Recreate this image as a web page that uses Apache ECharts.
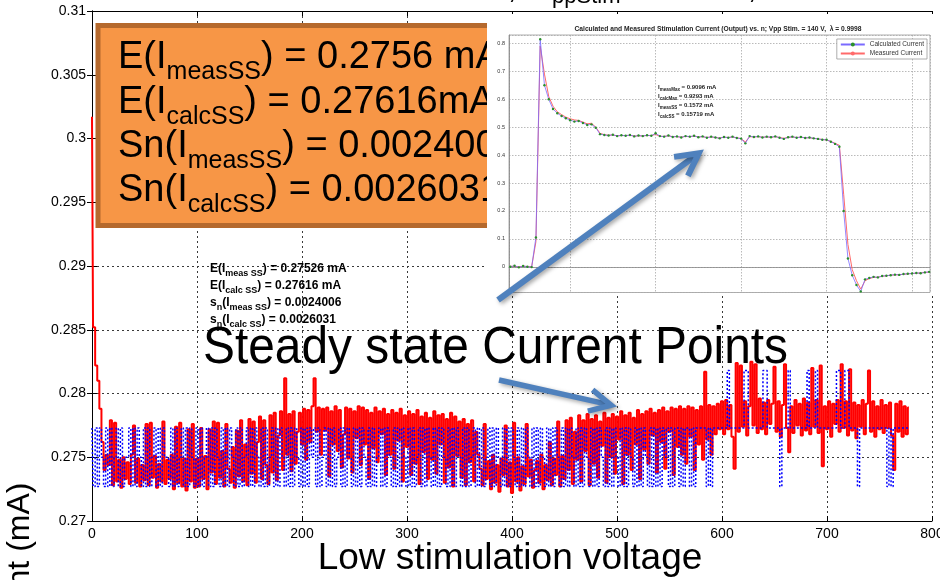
<!DOCTYPE html>
<html>
<head>
<meta charset="utf-8">
<script src="https://cdn.jsdelivr.net/npm/echarts@6/dist/echarts.min.js"></script>
<style>
  html, body { margin: 0; padding: 0; background: #fff; }
  #wrap { position: relative; width: 940px; height: 580px; overflow: hidden; }
  #main { position: absolute; left: 0; top: 0; width: 940px; height: 580px; }
  #inset { position: absolute; left: 487px; top: 14px; width: 453px; height: 280px; background: #fff; filter: blur(0.6px); }
  #overlay { position: absolute; left: 0; top: 0; width: 940px; height: 580px; pointer-events: none; }
</style>
</head>
<body>
<div id="wrap">
  <div id="main"></div>
  <div id="inset"></div>
  <div id="overlay"></div>
</div>
<script>
// ---------- main plot: steady-state current vs. low stimulation voltage ----------
const voltageStart = 0;
const voltageStep = 2;

// measured steady-state current (mA), red solid trace
const measuredSS = [
  0.3017,0.2852,0.2822,0.2810,0.2788,0.2762,0.2740,0.2752,0.2744,0.2779,
  0.2728,0.2777,0.2731,0.2748,0.2726,0.2750,0.2733,0.2746,0.2729,0.2752,
  0.2775,0.2730,0.2749,0.2727,0.2744,0.2732,0.2776,0.2728,0.2777,0.2734,
  0.2751,0.2726,0.2745,0.2731,0.2778,0.2729,0.2748,0.2733,0.2752,0.2725,
  0.2774,0.2730,0.2777,0.2727,0.2749,0.2724,0.2772,0.2731,0.2776,0.2726,
  0.2749,0.2727,0.2773,0.2733,0.2751,0.2725,0.2772,0.2738,0.2778,0.2729,
  0.2777,0.2734,0.2755,0.2727,0.2776,0.2741,0.2730,0.2758,0.2726,0.2771,
  0.2735,0.2779,0.2731,0.2760,0.2728,0.2780,0.2737,0.2778,0.2730,0.2762,
  0.2782,0.2733,0.2779,0.2744,0.2729,0.2783,0.2738,0.2785,0.2732,0.2767,
  0.2786,0.2740,0.2812,0.2752,0.2784,0.2739,0.2786,0.2745,0.2770,0.2785,
  0.2760,0.2788,0.2748,0.2787,0.2762,0.2790,0.2812,0.2770,0.2789,0.2752,
  0.2788,0.2771,0.2789,0.2735,0.2786,0.2760,0.2790,0.2755,0.2787,0.2742,
  0.2768,0.2789,0.2749,0.2788,0.2738,0.2786,0.2765,0.2790,0.2744,0.2789,
  0.2760,0.2787,0.2733,0.2785,0.2757,0.2789,0.2746,0.2786,0.2768,0.2788,
  0.2736,0.2784,0.2752,0.2787,0.2741,0.2785,0.2763,0.2788,0.2731,0.2783,
  0.2758,0.2786,0.2736,0.2784,0.2745,0.2787,0.2729,0.2782,0.2754,0.2785,
  0.2733,0.2781,0.2748,0.2786,0.2737,0.2783,0.2760,0.2784,0.2730,0.2780,
  0.2742,0.2785,0.2727,0.2782,0.2751,0.2778,0.2734,0.2780,0.2728,0.2776,
  0.2746,0.2779,0.2731,0.2770,0.2752,0.2741,0.2728,0.2776,0.2733,0.2747,
  0.2725,0.2752,0.2730,0.2744,0.2723,0.2749,0.2736,0.2775,0.2727,0.2746,
  0.2722,0.2777,0.2731,0.2750,0.2724,0.2743,0.2729,0.2776,0.2735,0.2748,
  0.2726,0.2740,0.2747,0.2730,0.2752,0.2725,0.2744,0.2732,0.2762,0.2728,
  0.2749,0.2736,0.2778,0.2727,0.2751,0.2733,0.2779,0.2740,0.2781,0.2729,
  0.2770,0.2748,0.2783,0.2731,0.2779,0.2755,0.2784,0.2728,0.2780,0.2745,
  0.2783,0.2734,0.2778,0.2759,0.2785,0.2730,0.2781,0.2750,0.2784,0.2737,
  0.2782,0.2764,0.2786,0.2729,0.2783,0.2752,0.2785,0.2740,0.2781,0.2760,
  0.2787,0.2733,0.2784,0.2756,0.2786,0.2745,0.2788,0.2767,0.2785,0.2738,
  0.2787,0.2762,0.2789,0.2741,0.2786,0.2770,0.2789,0.2736,0.2788,0.2758,
  0.2790,0.2752,0.2788,0.2745,0.2790,0.2766,0.2789,0.2740,0.2787,0.2760,
  0.2790,0.2748,0.2817,0.2764,0.2791,0.2752,0.2790,0.2768,0.2792,0.2772,
  0.2794,0.2768,0.2795,0.2772,0.2791,0.2766,0.2741,0.2824,0.2770,0.2822,
  0.2774,0.2794,0.2767,0.2790,0.2825,0.2775,0.2823,0.2769,0.2796,0.2772,
  0.2793,0.2768,0.2795,0.2776,0.2792,0.2821,0.2770,0.2794,0.2766,0.2791,
  0.2823,0.2773,0.2754,0.2790,0.2769,0.2795,0.2775,0.2792,0.2767,0.2796,
  0.2771,0.2793,0.2768,0.2820,0.2774,0.2795,0.2769,0.2822,0.2743,0.2790,
  0.2772,0.2794,0.2766,0.2792,0.2776,0.2795,0.2770,0.2823,0.2773,0.2794,
  0.2767,0.2819,0.2771,0.2793,0.2765,0.2791,0.2774,0.2795,0.2768,0.2792,
  0.2818,0.2770,0.2794,0.2766,0.2790,0.2772,0.2795,0.2769,0.2791,0.2773,
  0.2793,0.2767,0.2740,0.2792,0.2770,0.2794,0.2766,0.2790,0.2768,0.2789
];

// calculated steady-state current (mA), blue dotted trace (quantised levels)
const calculatedSS = [
  0.2773,0.2727,0.2773,0.2727,0.2773,0.2750,0.2727,0.2773,0.2727,0.2773,
  0.2727,0.2750,0.2773,0.2727,0.2773,0.2727,0.2750,0.2750,0.2773,0.2727,
  0.2773,0.2727,0.2773,0.2750,0.2727,0.2773,0.2727,0.2773,0.2727,0.2750,
  0.2773,0.2727,0.2773,0.2727,0.2773,0.2750,0.2750,0.2727,0.2773,0.2727,
  0.2773,0.2727,0.2750,0.2773,0.2727,0.2773,0.2727,0.2773,0.2750,0.2727,
  0.2773,0.2727,0.2773,0.2727,0.2750,0.2773,0.2727,0.2773,0.2727,0.2773,
  0.2750,0.2727,0.2773,0.2727,0.2773,0.2727,0.2773,0.2750,0.2727,0.2773,
  0.2727,0.2773,0.2727,0.2750,0.2773,0.2727,0.2773,0.2727,0.2773,0.2750,
  0.2727,0.2773,0.2727,0.2773,0.2727,0.2750,0.2773,0.2727,0.2773,0.2727,
  0.2773,0.2750,0.2727,0.2773,0.2727,0.2773,0.2727,0.2773,0.2750,0.2727,
  0.2773,0.2727,0.2773,0.2727,0.2773,0.2750,0.2773,0.2727,0.2773,0.2727,
  0.2750,0.2773,0.2727,0.2773,0.2727,0.2773,0.2727,0.2750,0.2773,0.2727,
  0.2773,0.2727,0.2773,0.2750,0.2727,0.2773,0.2727,0.2773,0.2727,0.2773,
  0.2750,0.2727,0.2773,0.2727,0.2773,0.2727,0.2750,0.2773,0.2727,0.2773,
  0.2727,0.2773,0.2750,0.2727,0.2773,0.2727,0.2773,0.2727,0.2773,0.2750,
  0.2727,0.2773,0.2727,0.2773,0.2727,0.2750,0.2773,0.2727,0.2773,0.2727,
  0.2773,0.2750,0.2727,0.2773,0.2727,0.2773,0.2727,0.2773,0.2750,0.2727,
  0.2773,0.2727,0.2773,0.2727,0.2773,0.2750,0.2727,0.2773,0.2727,0.2773,
  0.2727,0.2750,0.2773,0.2727,0.2773,0.2727,0.2773,0.2727,0.2750,0.2773,
  0.2727,0.2773,0.2727,0.2773,0.2750,0.2727,0.2773,0.2727,0.2773,0.2727,
  0.2773,0.2750,0.2727,0.2773,0.2727,0.2773,0.2727,0.2773,0.2750,0.2727,
  0.2773,0.2727,0.2773,0.2727,0.2773,0.2750,0.2727,0.2773,0.2727,0.2773,
  0.2727,0.2773,0.2750,0.2727,0.2773,0.2727,0.2773,0.2727,0.2773,0.2750,
  0.2727,0.2773,0.2727,0.2773,0.2727,0.2773,0.2750,0.2727,0.2773,0.2727,
  0.2773,0.2727,0.2773,0.2750,0.2727,0.2773,0.2727,0.2773,0.2727,0.2773,
  0.2750,0.2727,0.2773,0.2727,0.2773,0.2727,0.2773,0.2750,0.2727,0.2773,
  0.2727,0.2773,0.2727,0.2773,0.2750,0.2727,0.2773,0.2727,0.2773,0.2727,
  0.2773,0.2727,0.2773,0.2750,0.2773,0.2727,0.2773,0.2727,0.2773,0.2773,
  0.2727,0.2773,0.2727,0.2773,0.2773,0.2727,0.2773,0.2727,0.2773,0.2773,
  0.2773,0.2773,0.2773,0.2727,0.2773,0.2727,0.2773,0.2773,0.2773,0.2773,
  0.2773,0.2773,0.2773,0.2818,0.2773,0.2773,0.2773,0.2773,0.2773,0.2773,
  0.2773,0.2818,0.2818,0.2773,0.2773,0.2773,0.2773,0.2773,0.2773,0.2773,
  0.2818,0.2818,0.2773,0.2773,0.2773,0.2773,0.2773,0.2773,0.2727,0.2773,
  0.2773,0.2773,0.2818,0.2773,0.2773,0.2773,0.2773,0.2773,0.2773,0.2773,
  0.2773,0.2818,0.2773,0.2773,0.2773,0.2818,0.2773,0.2773,0.2773,0.2773,
  0.2773,0.2773,0.2773,0.2773,0.2773,0.2818,0.2818,0.2773,0.2773,0.2818,
  0.2818,0.2773,0.2773,0.2773,0.2773,0.2727,0.2773,0.2773,0.2773,0.2773,
  0.2773,0.2773,0.2773,0.2773,0.2773,0.2773,0.2773,0.2773,0.2773,0.2727,
  0.2773,0.2727,0.2773,0.2773,0.2773,0.2773,0.2773,0.2773,0.2773,0.2773
];

const xTicks = { min: 0, max: 800, interval: 100 };
const yTicks = { min: 0.27, max: 0.31, interval: 0.005 };

// ---------- inset: stimulation current vs. n ----------
const nStart = 6;
const nStep = 1;
const insetCalculated = [
  0.000,0.004,-0.002,0.003,0.000,-0.001,0.105,0.815,0.650,0.600,
  0.565,0.550,0.540,0.532,0.525,0.520,0.522,0.515,0.508,0.510,
  0.498,0.475,0.472,0.470,0.473,0.468,0.471,0.469,0.472,0.467,
  0.470,0.468,0.471,0.469,0.478,0.468,0.466,0.470,0.465,0.467,
  0.463,0.468,0.466,0.469,0.464,0.467,0.462,0.466,0.463,0.460,
  0.465,0.462,0.466,0.461,0.459,0.442,0.468,0.465,0.467,0.463,
  0.466,0.464,0.467,0.462,0.458,0.464,0.466,0.462,0.465,0.461,
  0.463,0.460,0.458,0.455,0.455,0.448,0.440,0.430,0.200,0.030,
  -0.030,-0.065,-0.088,-0.045,-0.040,-0.036,-0.038,-0.033,-0.032,-0.030,
  -0.028,-0.029,-0.026,-0.025,-0.024,-0.022,-0.023,-0.020,-0.018
];
const insetMeasured = [
  0.002,0.001,0.000,0.002,0.001,0.000,0.090,0.790,0.690,0.610,
  0.575,0.555,0.545,0.536,0.530,0.526,0.524,0.518,0.512,0.514,
  0.500,0.478,0.473,0.471,0.472,0.469,0.470,0.470,0.471,0.468,
  0.469,0.469,0.470,0.470,0.474,0.467,0.467,0.469,0.466,0.466,
  0.464,0.467,0.466,0.468,0.465,0.466,0.463,0.465,0.463,0.461,
  0.464,0.463,0.465,0.462,0.459,0.447,0.466,0.465,0.466,0.464,
  0.465,0.464,0.466,0.463,0.460,0.463,0.465,0.463,0.464,0.462,
  0.462,0.460,0.458,0.456,0.454,0.449,0.442,0.435,0.260,0.080,
  -0.010,-0.050,-0.080,-0.050,-0.042,-0.038,-0.037,-0.034,-0.032,-0.030,
  -0.029,-0.028,-0.027,-0.025,-0.024,-0.023,-0.022,-0.020,-0.019
];

// ---------- text helpers ----------
const FONT = '"Liberation Sans", Arial, Helvetica, sans-serif';
const measureCtx = document.createElement('canvas').getContext('2d');
function textWidth(t, size, weight) {
  measureCtx.font = (weight || 'normal') + ' ' + size + 'px ' + FONT;
  return measureCtx.measureText(t).width;
}
// place a text so that its alphabetic baseline sits at `baseline`
function textAt(t, x, baseline, size, weight, z, align) {
  const a = align || 'left';
  return {
    type: 'text', x: x, y: baseline - 0.3465 * size, z: z || 50, silent: true,
    style: {
      text: t, font: (weight || 'normal') + ' ' + size + 'px ' + FONT, fill: '#000',
      align: a, verticalAlign: 'middle', textAlign: a, textVerticalAlign: 'middle'
    }
  };
}
// a line made of runs: [text, size, baselineShift]
function runLine(x, baseline, parts, weight, z) {
  const els = [];
  let cx = x;
  parts.forEach(function (p) {
    els.push(textAt(p[0], cx, baseline + p[2], p[1], weight, z));
    cx += textWidth(p[0], p[1], weight);
  });
  return els;
}

// ---------- main chart ----------
const voltage = measuredSS.map(function (_, i) { return voltageStart + i * voltageStep; });
const mainChart = echarts.init(document.getElementById('main'));

const gridDots = { color: '#3a3a3a', width: 1, type: [2, 3] };
const axisBlack = { lineStyle: { color: '#000', width: 1 } };
const tickIn = { show: true, inside: true, length: 5, lineStyle: { color: '#000' } };

const boxBig = 38, boxSub = 25, boxDrop = 9.5;
const noteBig = 12, noteSub = 9, noteDrop = 4.5;

const graphics = [].concat(
  [{
    type: 'rect', z: 40, silent: true,
    shape: { x: 98, y: 25.5, width: 560, height: 200 },
    style: { fill: '#F79646', stroke: '#B5692D', lineWidth: 5 }
  }],
  runLine(118, 71, [['E(I', boxBig, 0], ['measSS', boxSub, boxDrop], [') = 0.2756 mA', boxBig, 0]]),
  runLine(118, 116, [['E(I', boxBig, 0], ['calcSS', boxSub, boxDrop], [') = 0.27616mA', boxBig, 0]]),
  runLine(118, 160, [['Sn(I', boxBig, 0], ['measSS', boxSub, boxDrop], [') = 0.0024006', boxBig, 0]]),
  runLine(118, 204, [['Sn(I', boxBig, 0], ['calcSS', boxSub, boxDrop], [') = 0.0026031', boxBig, 0]]),
  runLine(210, 272.5, [['E(I', noteBig, 0], ['meas SS', noteSub, noteDrop], [') = 0.27526 mA', noteBig, 0]], 'bold'),
  runLine(210, 289.5, [['E(I', noteBig, 0], ['calc SS', noteSub, noteDrop], [') = 0.27616 mA', noteBig, 0]], 'bold'),
  runLine(210, 306.5, [['s', noteBig, 0], ['n', noteSub, noteDrop], ['(I', noteBig, 0], ['meas SS', noteSub, noteDrop], [') = 0.0024006', noteBig, 0]], 'bold'),
  runLine(210, 323.5, [['s', noteBig, 0], ['n', noteSub, noteDrop], ['(I', noteBig, 0], ['calc SS', noteSub, noteDrop], [') = 0.0026031', noteBig, 0]], 'bold'),
  [
    Object.assign(textAt('Steady state Current Points', 203, 367, 52), { scaleX: 0.92, z: 60 }),
    textAt('Low stimulation voltage', 510, 572, 37, 'normal', 60, 'center'),
    {
      type: 'text', x: 20, y: 575, rotation: Math.PI / 2, z: 60, silent: true,
      style: { text: 'Current (mA)', font: '32px ' + FONT, fill: '#000',
        align: 'center', verticalAlign: 'middle', textAlign: 'center', textVerticalAlign: 'middle' }
    },
    textAt(',', 508, 0, 30, 'normal', 60),
    textAt('ppStim', 552, 5, 22, 'normal', 60),
    textAt(',', 748, 0, 30, 'normal', 60)
  ]
);

mainChart.setOption({
  animation: false,
  backgroundColor: '#fff',
  textStyle: { fontFamily: FONT },
  grid: { left: 92, right: 8, top: 11, bottom: 59, containLabel: false, outerBoundsMode: 'none' },
  xAxis: [
    {
      type: 'value', position: 'bottom', min: xTicks.min, max: xTicks.max, interval: xTicks.interval,
      axisLine: axisBlack, axisTick: tickIn,
      axisLabel: { color: '#000', fontSize: 14, margin: 6, fontFamily: FONT },
      splitLine: { show: true, lineStyle: gridDots }
    },
    {
      type: 'value', position: 'top', min: xTicks.min, max: xTicks.max, interval: xTicks.interval,
      axisLine: axisBlack, axisTick: tickIn, axisLabel: { show: false }, splitLine: { show: false }
    }
  ],
  yAxis: [
    {
      type: 'value', position: 'left', min: yTicks.min, max: yTicks.max, interval: yTicks.interval,
      axisLine: axisBlack, axisTick: tickIn,
      axisLabel: { color: '#000', fontSize: 14, margin: 6, fontFamily: FONT,
        formatter: function (v) { return String(+v.toFixed(3)); } },
      splitLine: { show: true, lineStyle: gridDots }
    },
    {
      type: 'value', position: 'right', min: yTicks.min, max: yTicks.max, interval: yTicks.interval,
      axisLine: axisBlack, axisTick: tickIn, axisLabel: { show: false }, splitLine: { show: false }
    }
  ],
  series: [
    {
      name: 'Measured', type: 'line', xAxisIndex: 0, yAxisIndex: 0, z: 2, step: 'middle',
      data: voltage.map(function (v, i) { return [v, measuredSS[i]]; }),
      symbol: 'none', showSymbol: false,
      lineStyle: { color: '#ff0000', width: 2 }
    },
    {
      name: 'Calculated', type: 'line', xAxisIndex: 0, yAxisIndex: 0, z: 3, step: 'middle',
      data: voltage.map(function (v, i) { return [v, calculatedSS[i]]; }),
      symbol: 'none', showSymbol: false,
      lineStyle: { color: '#0000ff', width: 1.5, type: [2, 2] }
    }
  ],
  graphic: { elements: graphics }
});

// ---------- inset chart ----------
const nValues = insetCalculated.map(function (_, i) { return nStart + i * nStep; });
const insetChart = echarts.init(document.getElementById('inset'));
const insetNote = 6, insetNoteSub = 4.5, insetDrop = 2;
const insetGraphics = [].concat(
  [textAt('Calculated and Measured Stimulation Current (Output) vs. n; Vpp Stim. = 140 V,  \u03bb = 0.9998',
    231, 17.5, 6.7, 'bold', 20, 'center')],
  runLine(171, 75.4, [['I', insetNote, 0], ['measMax', insetNoteSub, insetDrop], [' = 0.9096 mA', insetNote, 0]], 'bold', 20),
  runLine(171, 84.8, [['I', insetNote, 0], ['calcMax', insetNoteSub, insetDrop], [' = 0.9293 mA', insetNote, 0]], 'bold', 20),
  runLine(171, 93.1, [['I', insetNote, 0], ['measSS', insetNoteSub, insetDrop], [' = 0.1572 mA', insetNote, 0]], 'bold', 20),
  runLine(171, 102.1, [['I', insetNote, 0], ['calcSS', insetNoteSub, insetDrop], [' = 0.15719 mA', insetNote, 0]], 'bold', 20)
);
insetGraphics.forEach(function (g) { g.style.fill = '#222'; });

const insetGrid = { color: '#a8a8a8', width: 0.8, type: [1.5, 1.5] };
insetChart.setOption({
  animation: false,
  backgroundColor: '#fff',
  textStyle: { fontFamily: FONT },
  grid: { left: 22, right: 10, top: 21, bottom: 1.5, show: true, borderColor: '#9a9a9a', borderWidth: 0.8,
    containLabel: false, outerBoundsMode: 'none' },
  legend: {
    data: ['Calculated Current', 'Measured Current'],
    orient: 'vertical', right: 13, top: 25, itemWidth: 24, itemHeight: 5, itemGap: 2,
    padding: [2, 3, 2, 3], backgroundColor: '#fff', borderColor: '#999', borderWidth: 0.8,
    textStyle: { fontSize: 6.5, color: '#333', fontFamily: FONT }
  },
  xAxis: {
    type: 'value', min: 5.7, max: 104.2, splitNumber: 5,
    axisLine: { lineStyle: { color: '#888', width: 0.8 } }, axisTick: { show: false },
    axisLabel: { show: false }, splitLine: { show: true, lineStyle: insetGrid }
  },
  yAxis: {
    type: 'value', min: -0.092, max: 0.83, splitNumber: 9,
    axisLine: { show: true, lineStyle: { color: '#888', width: 0.8 } }, axisTick: { show: false },
    axisLabel: { fontSize: 5.5, color: '#333', margin: 4, showMinLabel: false, showMaxLabel: false,
      formatter: function (v) { return v === 0 ? '0' : v.toFixed(1); } },
    splitLine: { show: true, lineStyle: insetGrid },
    name: 'Current (mA)', nameLocation: 'middle', nameGap: 15, nameRotate: 90,
    nameTextStyle: { fontSize: 5.5, fontWeight: 'bold', color: '#333' }
  },
  series: [
    {
      name: 'Calculated Current', type: 'line', z: 3,
      data: nValues.map(function (n, i) { return [n, insetCalculated[i]]; }),
      symbol: 'circle', symbolSize: 2.4, showSymbol: true,
      itemStyle: { color: '#2a8f2a' }, lineStyle: { color: '#7a6aff', width: 0.8 }
    },
    {
      name: 'Measured Current', type: 'line', z: 2,
      data: nValues.map(function (n, i) { return [n, insetMeasured[i]]; }),
      symbol: 'none', showSymbol: false,
      itemStyle: { color: '#ff6a6a' }, lineStyle: { color: '#ff6a6a', width: 1 }
    }
  ],
  graphic: { elements: insetGraphics }
});

// ---------- callout arrows ----------
function arrowEls(x1, y1, x2, y2, w, headLen, headAng) {
  const a = Math.atan2(y2 - y1, x2 - x1);
  const tipX = x2 - 4 * Math.cos(a), tipY = y2 - 4 * Math.sin(a);
  const p1 = [tipX - headLen * Math.cos(a - headAng), tipY - headLen * Math.sin(a - headAng)];
  const p2 = [tipX - headLen * Math.cos(a + headAng), tipY - headLen * Math.sin(a + headAng)];
  const st = { stroke: '#4F81BD', lineWidth: w, fill: null, lineJoin: 'miter', lineCap: 'butt',
    shadowBlur: 4, shadowColor: 'rgba(0,0,0,0.35)', shadowOffsetX: 2, shadowOffsetY: 2 };
  return [
    { type: 'line', silent: true, shape: { x1: x1, y1: y1, x2: tipX - 2 * Math.cos(a), y2: tipY - 2 * Math.sin(a) }, style: st },
    { type: 'polyline', silent: true, shape: { points: [p1, [tipX, tipY], p2] }, style: st }
  ];
}
const overlayChart = echarts.init(document.getElementById('overlay'));
overlayChart.setOption({
  animation: false,
  graphic: { elements: [].concat(
    arrowEls(498, 300, 702, 151, 6, 25, 0.49),
    arrowEls(499, 380, 615, 406, 5.5, 24, 0.47)
  ) }
});
</script>
</body>
</html>
